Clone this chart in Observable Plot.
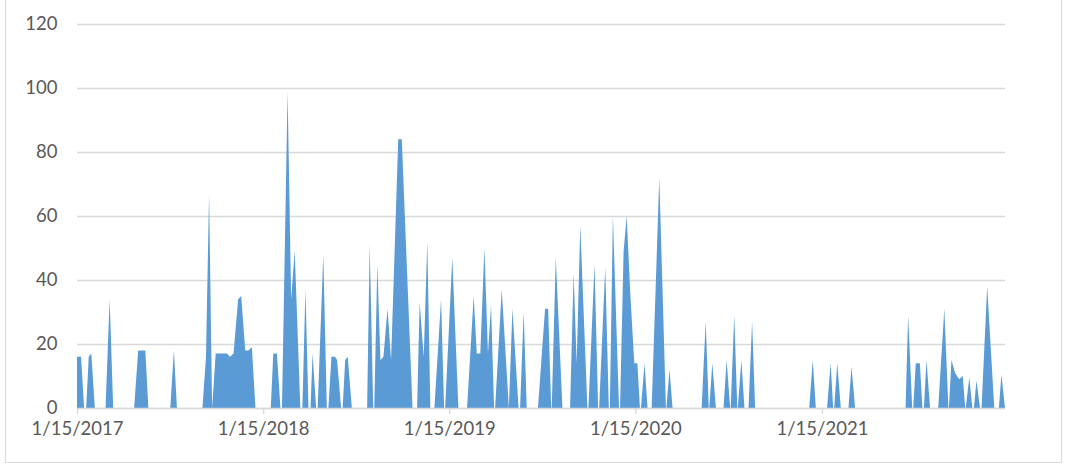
<!DOCTYPE html>
<html>
<head>
<meta charset="utf-8">
<script src="https://cdn.jsdelivr.net/npm/d3@7"></script>
<script src="https://cdn.jsdelivr.net/npm/@observablehq/plot@0.6"></script>
<style>
  html, body { margin: 0; padding: 0; background: #fff; }
  #wrap { position: relative; width: 1066px; height: 466px; overflow: hidden; }
  #frame { position: absolute; left: 5px; top: -1px; width: 1057px; height: 464px; box-sizing: border-box; border: 1px solid #d9d9d9; pointer-events: none; }
</style>
</head>
<body>
<div id="wrap"><div id="chart"></div><div id="frame"></div></div>
<script>
const dates = [
  "2017-01-15","2017-01-23","2017-01-29","2017-02-02","2017-02-07","2017-02-12","2017-02-19",
  "2017-03-12","2017-03-20","2017-03-27",
  "2017-05-07","2017-05-15","2017-05-29","2017-06-04",
  "2017-07-17","2017-07-24","2017-07-30",
  "2017-09-18","2017-09-25","2017-10-01","2017-10-07","2017-10-14","2017-11-05","2017-11-11","2017-11-18",
  "2017-11-27","2017-12-03","2017-12-11","2017-12-17","2017-12-24","2017-12-31",
  "2018-01-30","2018-02-04","2018-02-11","2018-02-18",
  "2018-02-21","2018-03-04","2018-03-11","2018-03-18","2018-03-29",
  "2018-04-02","2018-04-08","2018-04-14",
  "2018-04-18","2018-04-22","2018-04-29",
  "2018-05-02","2018-05-13","2018-05-20",
  "2018-05-23","2018-05-29","2018-06-05","2018-06-09","2018-06-17",
  "2018-06-20","2018-06-25","2018-06-30","2018-07-08",
  "2018-08-07","2018-08-12","2018-08-19",
  "2018-08-21","2018-08-27","2018-09-02","2018-09-08","2018-09-16","2018-09-23","2018-10-07","2018-10-14","2018-11-04",
  "2018-11-13","2018-11-18","2018-11-26","2018-12-03","2018-12-09",
  "2018-12-17","2018-12-30","2019-01-05",
  "2019-01-07","2019-01-21","2019-02-02",
  "2019-02-19","2019-03-04","2019-03-10","2019-03-17","2019-03-25","2019-04-01","2019-04-07","2019-04-13",
  "2019-04-15","2019-04-28","2019-05-12",
  "2019-05-19","2019-05-31",
  "2019-06-03","2019-06-10","2019-06-16",
  "2019-07-08","2019-07-22","2019-07-28","2019-08-03",
  "2019-08-04","2019-08-12","2019-08-25",
  "2019-09-09","2019-09-16","2019-09-22","2019-09-29","2019-10-13",
  "2019-10-15","2019-10-27","2019-11-03",
  "2019-11-05","2019-11-17","2019-11-24",
  "2019-11-26","2019-12-02","2019-12-14",
  "2019-12-16","2019-12-23","2019-12-29","2020-01-05","2020-01-13","2020-01-19","2020-01-24",
  "2020-01-26","2020-02-02","2020-02-08",
  "2020-02-16","2020-03-02","2020-03-15",
  "2020-03-16","2020-03-22","2020-03-28",
  "2020-05-24","2020-06-01","2020-06-07",
  "2020-06-08","2020-06-14","2020-06-21",
  "2020-07-06","2020-07-12","2020-07-19",
  "2020-07-20","2020-07-27","2020-08-02",
  "2020-08-03","2020-08-10","2020-08-16",
  "2020-08-24","2020-08-31","2020-09-06",
  "2020-12-21","2020-12-28","2021-01-03",
  "2021-01-25","2021-02-01","2021-02-06",
  "2021-02-08","2021-02-14","2021-02-21",
  "2021-03-08","2021-03-14","2021-03-21",
  "2021-06-28","2021-07-03","2021-07-11",
  "2021-07-13","2021-07-18","2021-07-26","2021-07-31",
  "2021-08-03","2021-08-08","2021-08-15",
  "2021-08-31","2021-09-12","2021-09-20",
  "2021-09-21","2021-09-26","2021-10-03","2021-10-11","2021-10-18","2021-10-23",
  "2021-10-24","2021-10-31","2021-11-06",
  "2021-11-09","2021-11-14","2021-11-21",
  "2021-11-24","2021-12-05","2021-12-19",
  "2021-12-28","2022-01-02","2022-01-09"
];
const values = [
  16,16,0,0,16,17,0,
  0,34,0,
  0,18,18,0,
  0,18,0,
  0,16,67,0,17,17,16,17,
  34,35,18,18,19,0,
  0,17,17,0,
  0,99,34,49,0,
  0,37,0,
  0,17,0,
  0,48,0,
  0,16,16,15,0,
  0,15,16,0,
  0,51,0,
  0,45,15,16,31,15,84,84,0,
  0,33,16,52,0,
  0,34,0,
  0,47,0,
  0,35,17,17,50,17,32,0,
  0,37,0,
  31,0,
  0,30,0,
  0,31,31,0,
  0,47,0,
  0,42,14,57,0,
  0,45,0,
  0,44,0,
  0,60,0,
  0,49,60,36,14,14,0,
  0,14,0,
  0,72,0,
  0,12,0,
  0,27,0,
  0,14,0,
  0,15,0,
  0,29,0,
  0,15,0,
  0,27,0,
  0,15,0,
  0,14,0,
  0,14,0,
  0,13,0,
  0,29,0,
  0,14,14,0,
  0,15,0,
  0,31,0,
  0,15,11,9,10,0,
  0,9.5,0,
  0,8.5,0,
  0,38,0,
  0,10.5,0
];
const tickDates = ["2017-01-15","2018-01-15","2019-01-15","2020-01-15","2021-01-15"];
const yTicks = [0, 20, 40, 60, 80, 100, 120];

const data = dates.map((d, i) => ({date: new Date(d), value: values[i]}));

const chart = Plot.plot({
  width: 1066,
  height: 466,
  marginLeft: 77,
  marginRight: 61,
  marginTop: 24,
  marginBottom: 58,
  style: {fontFamily: "Lato, 'Open Sans', sans-serif", fontSize: "18.5px", color: "#595959", background: "transparent"},
  x: {type: "utc", domain: [new Date("2017-01-15"), new Date("2022-01-09")]},
  y: {domain: [0, 120]},
  marks: [
    Plot.gridY(yTicks, {stroke: "#d9d9d9", strokeOpacity: 1, strokeWidth: 1.4}),
    Plot.areaY(data, {x: "date", y: "value", fill: "#5b9bd5", curve: "linear"}),
    Plot.ruleY([0], {stroke: "#d9d9d9", strokeWidth: 1.4}),
    Plot.axisY(yTicks, {tickSize: 0, tickPadding: 20, label: null, fill: "#595959"}),
    Plot.axisX(tickDates.map(d => new Date(d)), {
      tickSize: 6, tickPadding: 7, label: null,
      tickFormat: d3.utcFormat("%-m/%-d/%Y"),
      stroke: "#d9d9d9", strokeWidth: 1.4, fill: "#595959"
    })
  ]
});
document.getElementById("chart").appendChild(chart);
</script>
</body>
</html>
